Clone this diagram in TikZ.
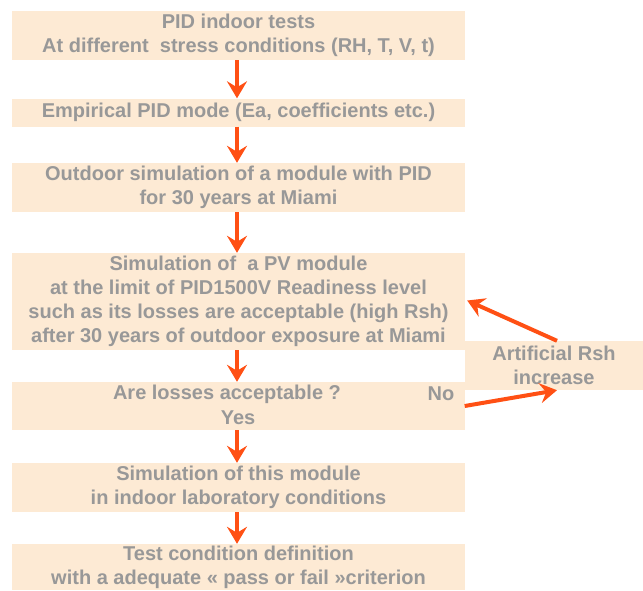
\documentclass[tikz,border=0pt]{standalone}
\usepackage{fontspec}
\setmainfont{Liberation Sans}
\usetikzlibrary{arrows.meta}
\definecolor{boxfill}{RGB}{253,234,212}
\definecolor{txtgray}{RGB}{152,152,152}
\definecolor{arr}{RGB}{255,80,20}
\begin{document}
\begin{tikzpicture}[x=1pt,y=-1pt,
  box/.style={fill=boxfill,draw=none,minimum width=453pt,inner sep=0pt,align=center,
    font=\fontsize{20}{24}\selectfont\bfseries,text=txtgray},
  lbl/.style={inner sep=0pt,font=\fontsize{20}{24}\selectfont\bfseries,text=txtgray,align=center},
  flow/.style={draw=arr,line width=4pt,-{Stealth[length=17pt,width=20pt,inset=6pt]}}]
\useasboundingbox (0,0) rectangle (643,590);
\node[box,minimum height=49pt] (b1) at (238.5,35.5) {PID indoor tests\\At different\ \ stress conditions (RH, T, V, t)};
\node[box,minimum height=28pt] (b2) at (238.5,112.5) {Empirical PID mode (Ea, coefficients etc.)};
\node[box,minimum height=49pt] (b3) at (238.5,187.5) {Outdoor simulation of a module with PID\\for 30 years at Miami};
\node[box,minimum height=97pt] (b4) at (238.5,301.5) {Simulation of\ \ a PV module\\at the limit of PID1500V Readiness level\\such as its losses are acceptable (high Rsh)\\after 30 years of outdoor exposure at Miami};
\node[box,minimum height=48pt] (b5) at (238,406) {};
\node[lbl] (q) at (227,394) {Are losses acceptable ?};
\node[lbl] (no) at (441,394) {No};
\node[lbl] (yes) at (238,418) {Yes};
\node[box,minimum height=49pt] (b6) at (238.5,487.5) {Simulation of this module\\in indoor laboratory conditions};
\node[box,minimum height=46pt] (b7) at (238.5,567) {Test condition definition\\with a adequate « pass or fail »criterion};
\node[box,minimum width=178pt,minimum height=49pt] (rb) at (554,365.5) {Artificial Rsh\\increase};
\draw[flow] (b1.south -| 237,0) -- (b2.north -| 237,0);
\draw[flow] (b2.south -| 237,0) -- (b3.north -| 237,0);
\draw[flow] (b3.south -| 237,0) -- (b4.north -| 237,0);
\draw[flow] (b4.south -| 237,0) -- (b5.north -| 237,0);
\draw[flow] (b5.south -| 237,0) -- (b6.north -| 237,0);
\draw[flow] (b6.south -| 237,0) -- (b7.north -| 237,0);
\draw[flow] ([xshift=3pt]rb.north) -- ([xshift=2pt,yshift=1pt]b4.east);
\draw[flow] (b5.east) -- ([xshift=3pt]rb.south);
\end{tikzpicture}
\end{document}
